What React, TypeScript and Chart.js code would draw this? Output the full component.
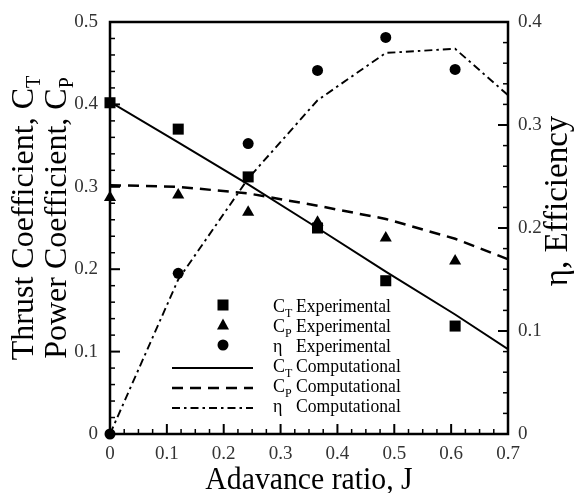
import React, { useEffect, useRef } from 'react';
import { Chart, registerables } from 'chart.js';

Chart.register(...registerables);

const FONT = '"Liberation Serif", "Times New Roman", serif';

// Experimental data (advance ratio J)
const jExp = [0, 0.12, 0.243, 0.365, 0.485, 0.607];
const ctExp = [0.402, 0.37, 0.312, 0.25, 0.186, 0.131];
const cpExp = [0.287, 0.29, 0.269, 0.257, 0.238, 0.21];
const etaExp = [0, 0.156, 0.282, 0.353, 0.385, 0.354];

// Computational data
const jComp = [0, 0.12, 0.243, 0.365, 0.485, 0.607, 0.7];
const ctComp = [0.403, 0.354, 0.303, 0.25, 0.197, 0.145, 0.103];
const cpComp = [0.302, 0.3, 0.292, 0.277, 0.261, 0.237, 0.212];
const etaComp = [0, 0.15, 0.248, 0.324, 0.37, 0.374, 0.329];

// Axis ticks
const xTicks = [0, 0.1, 0.2, 0.3, 0.4, 0.5, 0.6, 0.7];
const leftTicks = [0, 0.1, 0.2, 0.3, 0.4, 0.5];
const rightTicks = [0, 0.1, 0.2, 0.3, 0.4];

// Titles
const xTitle = 'Adavance ratio, J';
const leftTitle1 = ['Thrust Coefficient, C', 'T'];
const leftTitle2 = ['Power Coefficient, C', 'P'];
const rightTitle = 'η, Efficiency';

// Legend entries
const legendPrefix = ['C', 'C', 'η', 'C', 'C', 'η'];
const legendSub = ['T', 'P', '', 'T', 'P', ''];
const legendLabel = ['Experimental', 'Experimental', 'Experimental', 'Computational', 'Computational', 'Computational'];
const legendKind = ['rect', 'triangle', 'circle', 'solid', 'dash', 'dashdot'];

const DASH = [11, 7];
const DASHDOT = [8, 4, 2.5, 4];

const fmt = (v: number) => (v === 0 ? '0' : Number(v).toFixed(1));

type Part = { t: string; sub?: boolean };

function drawRich(ctx: CanvasRenderingContext2D, parts: Part[], x: number, y: number, size: number, subSize: number, subDy: number, center: boolean, sx = 1) {
  let w = 0;
  for (const p of parts) {
    ctx.font = `${p.sub ? subSize : size}px ${FONT}`;
    w += ctx.measureText(p.t).width;
  }
  ctx.save();
  ctx.translate(x, y);
  ctx.scale(sx, 1);
  let cx = center ? -w / 2 : 0;
  for (const p of parts) {
    ctx.font = `${p.sub ? subSize : size}px ${FONT}`;
    ctx.fillText(p.t, cx, p.sub ? subDy : 0);
    cx += ctx.measureText(p.t).width;
  }
  ctx.restore();
}

function line(ctx: CanvasRenderingContext2D, x1: number, y1: number, x2: number, y2: number) {
  ctx.beginPath();
  ctx.moveTo(x1, y1);
  ctx.lineTo(x2, y2);
  ctx.stroke();
}

const decor = {
  id: 'decor',
  beforeDatasetsDraw(chart: any) {
    const { ctx, chartArea: a, scales } = chart;
    ctx.save();
    ctx.strokeStyle = '#000';
    const xs = scales.x;
    const yl = scales.y;
    const yr = scales.y1;
    for (let i = 0; i <= 28; i++) {
      const px = xs.getPixelForValue(i * 0.025);
      const major = i % 4 === 0;
      ctx.lineWidth = major ? 2 : 1.5;
      line(ctx, px, a.bottom, px, a.bottom - (major ? 10 : 5));
    }
    for (let i = 0; i <= 25; i++) {
      const py = yl.getPixelForValue(i * 0.02);
      const major = i % 5 === 0;
      ctx.lineWidth = major ? 2 : 1.5;
      line(ctx, a.left, py, a.left + (major ? 10 : 5), py);
    }
    for (let i = 0; i <= 20; i++) {
      const py = yr.getPixelForValue(i * 0.02);
      const major = i % 5 === 0;
      ctx.lineWidth = major ? 2 : 1.5;
      line(ctx, a.right, py, a.right - (major ? 10 : 5), py);
    }
    ctx.lineWidth = 2.5;
    ctx.strokeRect(a.left, a.top, a.right - a.left, a.bottom - a.top);
    ctx.restore();
  },
  afterDraw(chart: any) {
    const { ctx, chartArea: a } = chart;
    ctx.save();
    ctx.fillStyle = '#000';
    ctx.strokeStyle = '#000';
    ctx.textAlign = 'left';
    ctx.textBaseline = 'alphabetic';

    // X title
    drawRich(ctx, [{ t: xTitle }], (a.left + a.right) / 2, 489, 32, 20, 0, true, 0.93);

    // Left title (rotated)
    ctx.save();
    ctx.translate(0, 218);
    ctx.rotate(-Math.PI / 2);
    drawRich(ctx, [{ t: leftTitle1[0] }, { t: leftTitle1[1], sub: true }], 0, 33, 32, 20, 7, true);
    drawRich(ctx, [{ t: leftTitle2[0] }, { t: leftTitle2[1], sub: true }], 0, 66, 32, 20, 7, true);
    ctx.restore();

    // Right title (rotated)
    ctx.save();
    ctx.translate(0, 201);
    ctx.rotate(-Math.PI / 2);
    drawRich(ctx, [{ t: rightTitle }], 0, 567, 33, 20, 0, true);
    ctx.restore();

    // Legend
    const symX = a.left + 113;
    const lineX1 = a.left + 62;
    const lineX2 = a.left + 143;
    const textX = a.left + 163;
    const labelX = a.left + 186;
    for (let i = 0; i < legendKind.length; i++) {
      const base = 312 + i * 20;
      const kind = legendKind[i];
      const sy = base - 7;
      ctx.setLineDash([]);
      if (kind === 'rect') {
        ctx.fillRect(symX - 5.5, sy - 5.5, 11, 11);
      } else if (kind === 'triangle') {
        ctx.beginPath();
        ctx.moveTo(symX, sy - 6.5);
        ctx.lineTo(symX + 6, sy + 4.5);
        ctx.lineTo(symX - 6, sy + 4.5);
        ctx.closePath();
        ctx.fill();
      } else if (kind === 'circle') {
        ctx.beginPath();
        ctx.arc(symX, sy, 5.5, 0, Math.PI * 2);
        ctx.fill();
      } else {
        const ly = base - 4;
        if (kind === 'solid') { ctx.lineWidth = 2; }
        if (kind === 'dash') { ctx.lineWidth = 2.5; ctx.setLineDash(DASH); }
        if (kind === 'dashdot') { ctx.lineWidth = 1.9; ctx.setLineDash(DASHDOT); }
        line(ctx, lineX1, ly, lineX2, ly);
        ctx.setLineDash([]);
      }
      const parts: Part[] = [{ t: legendPrefix[i] }];
      if (legendSub[i]) parts.push({ t: legendSub[i], sub: true });
      drawRich(ctx, parts, textX, base, 18, 12, 5, false);
      drawRich(ctx, [{ t: legendLabel[i] }], labelX, base, 18, 12, 0, false, 0.98);
    }
    ctx.restore();
  },
};

export default function App() {
  const ref = useRef<HTMLCanvasElement>(null);
  useEffect(() => {
    const pts = (xs: number[], ys: number[]) => xs.map((x, i) => ({ x, y: ys[i] }));
    const tickFont = { family: FONT, size: 19 };
    const chart = new Chart(ref.current as HTMLCanvasElement, {
      type: 'line',
      data: {
        datasets: [
          { label: 'CT Computational', data: pts(jComp, ctComp), yAxisID: 'y', borderColor: '#000', borderWidth: 2, pointRadius: 0, fill: false, tension: 0 },
          { label: 'CP Computational', data: pts(jComp, cpComp), yAxisID: 'y', borderColor: '#000', borderWidth: 2.5, borderDash: DASH, pointRadius: 0, fill: false, tension: 0 },
          { label: 'η Computational', data: pts(jComp, etaComp), yAxisID: 'y1', borderColor: '#000', borderWidth: 1.9, borderDash: DASHDOT, pointRadius: 0, fill: false, tension: 0 },
          { label: 'CT Experimental', data: pts(jExp, ctExp), yAxisID: 'y', showLine: false, pointStyle: 'rect', pointRadius: 7.8, pointBorderWidth: 0, pointBackgroundColor: '#000', clip: false } as any,
          { label: 'CP Experimental', data: pts(jExp, cpExp), yAxisID: 'y', showLine: false, pointStyle: 'triangle', pointRadius: 7, pointBorderWidth: 0, pointBackgroundColor: '#000', clip: false } as any,
          { label: 'η Experimental', data: pts(jExp, etaExp), yAxisID: 'y1', showLine: false, pointStyle: 'circle', pointRadius: 5.5, pointBorderWidth: 0, pointBackgroundColor: '#000', clip: false } as any,
        ] as any,
      },
      options: {
        responsive: false,
        animation: false,
        devicePixelRatio: 1,
        layout: { padding: { top: 22, left: 0, right: 0, bottom: 0 } },
        plugins: { legend: { display: false }, tooltip: { enabled: false }, title: { display: false } },
        scales: {
          x: {
            type: 'linear', position: 'bottom', min: 0, max: 0.7,
            grid: { display: false }, border: { display: false },
            afterBuildTicks: (s: any) => { s.ticks = xTicks.map((v) => ({ value: v })); },
            afterFit: (s: any) => { s.height = 59; },
            ticks: { padding: 1, font: tickFont, color: '#333', maxRotation: 0, autoSkip: false, callback: (v: any) => fmt(Number(v)) },
          },
          y: {
            type: 'linear', position: 'left', min: 0, max: 0.5,
            grid: { display: false }, border: { display: false },
            afterBuildTicks: (s: any) => { s.ticks = leftTicks.map((v) => ({ value: v })); },
            afterFit: (s: any) => { s.width = 110; },
            ticks: { padding: 4, font: tickFont, color: '#333', autoSkip: false, callback: (v: any) => fmt(Number(v)) },
          },
          y1: {
            type: 'linear', position: 'right', min: 0, max: 0.4,
            grid: { display: false }, border: { display: false },
            afterBuildTicks: (s: any) => { s.ticks = rightTicks.map((v) => ({ value: v })); },
            afterFit: (s: any) => { s.width = 68; },
            ticks: { padding: 2, font: tickFont, color: '#333', autoSkip: false, callback: (v: any) => fmt(Number(v)) },
          },
        },
      } as any,
      plugins: [decor],
    });
    return () => chart.destroy();
  }, []);
  return (
    <div style={{ position: 'absolute', left: 0, top: 0, width: 576, height: 493, background: '#fff' }}>
      <canvas ref={ref} width={576} height={493} style={{ display: 'block', width: 576, height: 493 }} />
    </div>
  );
}
